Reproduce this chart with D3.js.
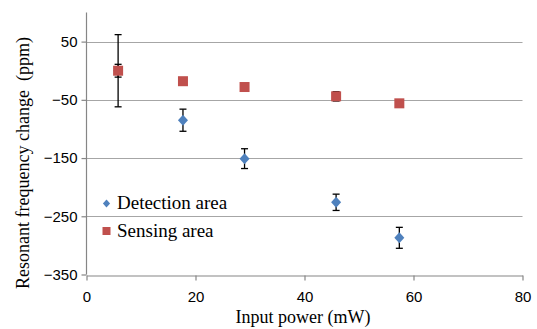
<!DOCTYPE html>
<html><head><meta charset="utf-8">
<script src="https://cdn.jsdelivr.net/npm/d3@7"></script>
</head><body style="margin:0">
<script>
const seriesNames = ["Detection area", "Sensing area"];
const powerX = [5.8, 17.7, 29.0, 45.8, 57.4];
const detectionY = [0, -85, -151, -226, -287];
const detectionErr = [62, 19, 17, 14, 18];
const sensingY = [0, -18, -28, -44, -56];
const sensingErr = [11, 0, 0, 8, 0];
const xTicks = [0, 20, 40, 60, 80];
const yTicks = [50, -50, -150, -250, -350];

const SERIF = '"Liberation Serif"';
const SANS = '"Liberation Sans"';

const W = 537, H = 329;
const svg = d3.select("body").append("svg").attr("width", W).attr("height", H).style("display", "block");
const x = d3.scaleLinear().domain([0, 80]).range([86.5, 522.5]);
const y = d3.scaleLinear().domain([-350, 100]).range([274.5, 12.5]);

svg.append("g").selectAll("line").data(yTicks.filter(d => d > -350)).join("line")
  .attr("x1", x(0)).attr("x2", x(80)).attr("y1", d => Math.round(y(d)) + 0.5).attr("y2", d => Math.round(y(d)) + 0.5)
  .attr("stroke", "#a6a6a6").attr("stroke-width", 1.2);

const xAxis = svg.append("g").attr("transform", `translate(0,${Math.round(y(-350)) + 0.5})`)
  .call(d3.axisBottom(x).tickValues(xTicks).tickSize(5).tickPadding(11).tickSizeOuter(0));
const yAxis = svg.append("g").attr("transform", `translate(${x(0)},0)`)
  .call(d3.axisLeft(y).tickValues(yTicks).tickSize(5).tickPadding(4).tickSizeOuter(0));
[xAxis, yAxis].forEach(g => {
  g.attr("font-family", null).attr("font-size", null);
  g.select(".domain").attr("stroke", "#868686").attr("stroke-width", 1.2);
  g.selectAll(".tick line").attr("stroke", "#868686").attr("stroke-width", 1.2);
  g.selectAll("text").attr("fill", "#000").style("font-family", SANS).style("font-size", "15px");
});
yAxis.select(".domain").attr("d", `M0,${y(100)}V${y(-350)}`);

function errBars(ys, es) {
  const d = powerX.map((p, i) => ({x: p, y: ys[i], e: es[i]})).filter(v => v.e > 0);
  const g = svg.append("g").attr("stroke", "#000").attr("stroke-width", 1.3);
  g.selectAll("line.v").data(d).join("line").attr("class", "v")
    .attr("x1", v => x(v.x)).attr("x2", v => x(v.x)).attr("y1", v => y(v.y + v.e)).attr("y2", v => y(v.y - v.e));
  g.selectAll("line.t").data(d).join("line").attr("class", "t")
    .attr("x1", v => x(v.x) - 3.5).attr("x2", v => x(v.x) + 3.5).attr("y1", v => y(v.y + v.e)).attr("y2", v => y(v.y + v.e));
  g.selectAll("line.b").data(d).join("line").attr("class", "b")
    .attr("x1", v => x(v.x) - 3.5).attr("x2", v => x(v.x) + 3.5).attr("y1", v => y(v.y - v.e)).attr("y2", v => y(v.y - v.e));
}
errBars(detectionY, detectionErr);

const diamond = "M0,-5.5L5,0L0,5.5L-5,0Z";
svg.append("g").selectAll("path").data(powerX.map((p, i) => [p, detectionY[i]])).join("path")
  .attr("d", diamond).attr("transform", d => `translate(${x(d[0])},${y(d[1])})`).attr("fill", "#4F81BD");

errBars(sensingY, sensingErr);
svg.append("g").selectAll("rect").data(powerX.map((p, i) => [p, sensingY[i]])).join("rect")
  .attr("x", d => x(d[0]) - 5).attr("y", d => y(d[1]) - 5).attr("width", 10).attr("height", 10).attr("fill", "#C0504D");

svg.append("path").attr("d", "M0,-4L3.6,0L0,4L-3.6,0Z").attr("transform", "translate(106.5,203.5)").attr("fill", "#4F81BD");
svg.append("rect").attr("x", 102.5).attr("y", 227).attr("width", 8).attr("height", 8).attr("fill", "#C0504D");
svg.selectAll("text.leg").data(seriesNames).join("text").attr("class", "leg")
  .attr("x", 117).attr("y", (d, i) => 209 + i * 27.5).text(d => d)
  .attr("font-family", "Liberation Serif").style("font-family", SERIF).style("font-size", "19px").attr("fill", "#000");

svg.append("text").attr("x", 303).attr("y", 323).attr("text-anchor", "middle")
  .attr("font-family", "Liberation Serif").style("font-family", SERIF).style("font-size", "18px").text("Input power (mW)");
svg.append("text").attr("transform", "translate(29,163) rotate(-90)").attr("text-anchor", "middle")
  .attr("font-family", "Liberation Serif").style("font-family", SERIF).style("font-size", "18px")
  .text("Resonant frequency change\u00a0\u00a0(ppm)");
</script>
</body></html>
